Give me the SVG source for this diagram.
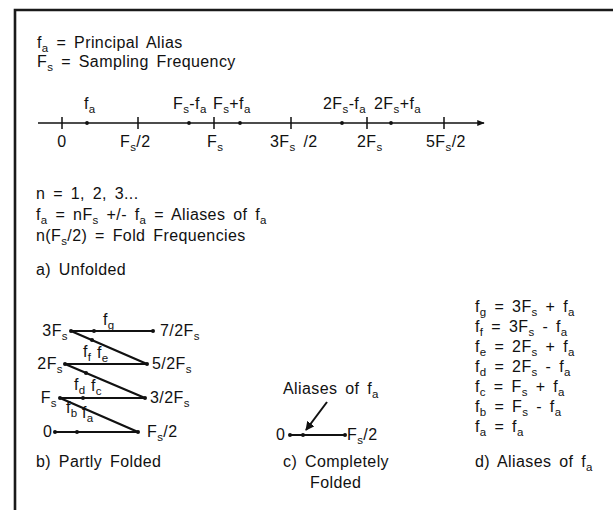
<svg xmlns="http://www.w3.org/2000/svg" width="613" height="510" viewBox="0 0 613 510">
<style>
text{font-family:"Liberation Sans",Arial,sans-serif;font-size:16px;fill:#111;letter-spacing:0.4px;word-spacing:3px}
.sub{font-size:11.5px}
.ln{stroke:#111;stroke-width:2.2;fill:none}
.thin{stroke:#111;stroke-width:1.5;fill:none}
.dot{fill:#111}
</style>
<defs>
<marker id="ah" viewBox="0 0 10 10" refX="9" refY="5" markerWidth="5" markerHeight="5" orient="auto" markerUnits="strokeWidth"><path d="M0,1 L10,5 L0,9 z" fill="#111"/></marker>
<marker id="ah2" viewBox="0 0 10 10" refX="9" refY="5" markerWidth="4.5" markerHeight="4.5" orient="auto" markerUnits="strokeWidth"><path d="M0,0 L10,5 L0,10 z" fill="#111"/></marker>
</defs>
<rect width="613" height="510" fill="#fff"/>
<path d="M15,510 V10 H613" stroke="#1a1a1a" stroke-width="2.6" fill="none"/>

<g id="legend">
<text x="37" y="48">f<tspan class="sub" dy="3.5">a</tspan><tspan dy="-3.5"> = Principal Alias</tspan></text>
<text x="37" y="67">F<tspan class="sub" dy="3.5">s</tspan><tspan dy="-3.5"> = Sampling Frequency</tspan></text>
</g>

<g id="numberline">
<line class="thin" x1="38" y1="123" x2="484" y2="123" marker-end="url(#ah)"/>
<path class="thin" d="M62,117V129M138,117V129M214,117V129M291,117V129M367,117V129M444,117V129"/>
<circle class="dot" cx="87" cy="123" r="1.9"/>
<circle class="dot" cx="189" cy="123" r="1.9"/>
<circle class="dot" cx="240" cy="123" r="1.9"/>
<circle class="dot" cx="342" cy="123" r="1.9"/>
<circle class="dot" cx="391" cy="123" r="1.9"/>
<text x="84" y="109">f<tspan class="sub" dy="4">a</tspan></text>
<text x="173" y="109">F<tspan class="sub" dy="4">s</tspan><tspan dy="-4">-f</tspan><tspan class="sub" dy="4">a</tspan></text>
<text x="213" y="109">F<tspan class="sub" dy="4">s</tspan><tspan dy="-4">+f</tspan><tspan class="sub" dy="4">a</tspan></text>
<text x="323" y="109">2F<tspan class="sub" dy="4">s</tspan><tspan dy="-4">-f</tspan><tspan class="sub" dy="4">a</tspan></text>
<text x="374" y="109">2F<tspan class="sub" dy="4">s</tspan><tspan dy="-4">+f</tspan><tspan class="sub" dy="4">a</tspan></text>
<text x="62" y="147" text-anchor="middle">0</text>
<text x="120" y="147">F<tspan class="sub" dy="4">s</tspan><tspan dy="-4">/2</tspan></text>
<text x="207" y="147">F<tspan class="sub" dy="4">s</tspan></text>
<text x="270" y="147">3F<tspan class="sub" dy="4">s</tspan><tspan dy="-4"> /2</tspan></text>
<text x="357" y="147">2F<tspan class="sub" dy="4">s</tspan></text>
<text x="426" y="147">5F<tspan class="sub" dy="4">s</tspan><tspan dy="-4">/2</tspan></text>
</g>

<g id="definitions">
<text x="36" y="199">n = 1, 2, 3...</text>
<text x="36" y="220">f<tspan class="sub" dy="4">a</tspan><tspan dy="-4"> = nF</tspan><tspan class="sub" dy="4">s</tspan><tspan dy="-4"> +/- f</tspan><tspan class="sub" dy="4">a</tspan><tspan dy="-4"> = Aliases of f</tspan><tspan class="sub" dy="4">a</tspan></text>
<text x="36" y="241">n(F<tspan class="sub" dy="4">s</tspan><tspan dy="-4">/2) = Fold Frequencies</tspan></text>
<text x="36" y="275">a) Unfolded</text>
</g>

<g id="partly-folded">
<path class="ln" d="M71,331 H153 M71,331 L147,364 M65,364 H147 M65,364 L145,398 M60,398 H145 M60,398 L138,432 M55,432 H138"/>
<g class="dot">
<circle cx="71" cy="331" r="2"/><circle cx="94" cy="331" r="2"/><circle cx="153" cy="331" r="2"/>
<circle cx="92" cy="340" r="2"/>
<circle cx="65" cy="364" r="2"/><circle cx="147" cy="364" r="2"/>
<circle cx="86" cy="373" r="2"/>
<circle cx="60" cy="398" r="2"/><circle cx="83" cy="398" r="2"/><circle cx="145" cy="398" r="2"/>
<circle cx="55" cy="432" r="2"/><circle cx="77" cy="432" r="2"/><circle cx="138" cy="432" r="2"/>
</g>
<text x="68" y="336" text-anchor="end">3F<tspan class="sub" dy="4">s</tspan></text>
<text x="63" y="369" text-anchor="end">2F<tspan class="sub" dy="4">s</tspan></text>
<text x="57" y="403" text-anchor="end">F<tspan class="sub" dy="4">s</tspan></text>
<text x="43" y="437">0</text>
<text x="160" y="336">7/2F<tspan class="sub" dy="4">s</tspan></text>
<text x="152" y="369">5/2F<tspan class="sub" dy="4">s</tspan></text>
<text x="150" y="403">3/2F<tspan class="sub" dy="4">s</tspan></text>
<text x="147" y="437">F<tspan class="sub" dy="4">s</tspan><tspan dy="-4">/2</tspan></text>
<text x="103" y="325">f<tspan class="sub" dy="4">g</tspan></text>
<text x="83" y="357">f<tspan class="sub" dy="4">f</tspan></text>
<text x="97" y="358">f<tspan class="sub" dy="4">e</tspan></text>
<text x="74" y="390">f<tspan class="sub" dy="4">d</tspan></text>
<text x="91" y="391">f<tspan class="sub" dy="4">c</tspan></text>
<text x="66" y="413">f<tspan class="sub" dy="4">b</tspan></text>
<text x="82" y="418">f<tspan class="sub" dy="4">a</tspan></text>
<text x="36" y="467">b) Partly Folded</text>
</g>

<g id="completely-folded">
<text x="283" y="394">Aliases of f<tspan class="sub" dy="4">a</tspan></text>
<line x1="327" y1="402" x2="306" y2="430" stroke="#111" stroke-width="2" marker-end="url(#ah2)"/>
<line class="ln" x1="290" y1="435" x2="345" y2="435"/>
<circle class="dot" cx="290" cy="435" r="2"/>
<circle class="dot" cx="303" cy="435" r="2"/>
<circle class="dot" cx="345" cy="435" r="2"/>
<text x="276" y="440">0</text>
<text x="347" y="440">F<tspan class="sub" dy="4">s</tspan><tspan dy="-4">/2</tspan></text>
<text x="283" y="467">c) Completely</text>
<text x="310" y="488">Folded</text>
</g>

<g id="aliases">
<text x="475" y="312">f<tspan class="sub" dy="4">g</tspan><tspan dy="-4"> = 3F</tspan><tspan class="sub" dy="4">s</tspan><tspan dy="-4"> + f</tspan><tspan class="sub" dy="4">a</tspan></text>
<text x="475" y="332">f<tspan class="sub" dy="4">f</tspan><tspan dy="-4"> = 3F</tspan><tspan class="sub" dy="4">s</tspan><tspan dy="-4"> - f</tspan><tspan class="sub" dy="4">a</tspan></text>
<text x="475" y="352">f<tspan class="sub" dy="4">e</tspan><tspan dy="-4"> = 2F</tspan><tspan class="sub" dy="4">s</tspan><tspan dy="-4"> + f</tspan><tspan class="sub" dy="4">a</tspan></text>
<text x="475" y="372">f<tspan class="sub" dy="4">d</tspan><tspan dy="-4"> = 2F</tspan><tspan class="sub" dy="4">s</tspan><tspan dy="-4"> - f</tspan><tspan class="sub" dy="4">a</tspan></text>
<text x="475" y="392">f<tspan class="sub" dy="4">c</tspan><tspan dy="-4"> = F</tspan><tspan class="sub" dy="4">s</tspan><tspan dy="-4"> + f</tspan><tspan class="sub" dy="4">a</tspan></text>
<text x="475" y="412">f<tspan class="sub" dy="4">b</tspan><tspan dy="-4"> = F</tspan><tspan class="sub" dy="4">s</tspan><tspan dy="-4"> - f</tspan><tspan class="sub" dy="4">a</tspan></text>
<text x="475" y="432">f<tspan class="sub" dy="4">a</tspan><tspan dy="-4"> = f</tspan><tspan class="sub" dy="4">a</tspan></text>
<text x="475" y="467">d) Aliases of f<tspan class="sub" dy="4">a</tspan></text>
</g>
</svg>
